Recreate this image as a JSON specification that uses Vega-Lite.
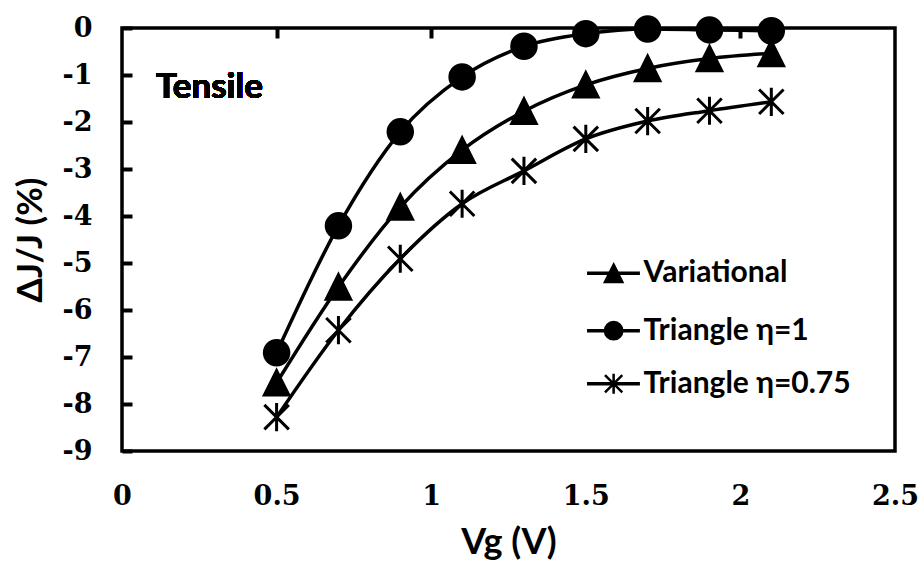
{
  "$schema": "https://vega.github.io/schema/vega-lite/v6.json",
  "width": 773,
  "height": 423,
  "autosize": {"type": "none"},
  "padding": {"left": 122, "top": 28, "right": 26, "bottom": 117},
  "background": "white",
  "config": {
    "view": {"stroke": "black", "strokeWidth": 3.5},
    "axis": {"grid": false, "domain": false}
  },
  "resolve": {"axis": {"x": "independent", "y": "independent"}},
  "data": {
    "values": [
      {"series": "Variational", "vg": 0.5, "dj": -7.55},
      {"series": "Variational", "vg": 0.7, "dj": -5.51},
      {"series": "Variational", "vg": 0.9, "dj": -3.81},
      {"series": "Variational", "vg": 1.1, "dj": -2.6},
      {"series": "Variational", "vg": 1.3, "dj": -1.77},
      {"series": "Variational", "vg": 1.5, "dj": -1.21},
      {"series": "Variational", "vg": 1.7, "dj": -0.86},
      {"series": "Variational", "vg": 1.9, "dj": -0.65},
      {"series": "Variational", "vg": 2.1, "dj": -0.54},
      {"series": "Triangle η=1", "vg": 0.5, "dj": -6.91},
      {"series": "Triangle η=1", "vg": 0.7, "dj": -4.21},
      {"series": "Triangle η=1", "vg": 0.9, "dj": -2.21},
      {"series": "Triangle η=1", "vg": 1.1, "dj": -1.04},
      {"series": "Triangle η=1", "vg": 1.3, "dj": -0.39},
      {"series": "Triangle η=1", "vg": 1.5, "dj": -0.12},
      {"series": "Triangle η=1", "vg": 1.7, "dj": -0.02},
      {"series": "Triangle η=1", "vg": 1.9, "dj": -0.04},
      {"series": "Triangle η=1", "vg": 2.1, "dj": -0.06},
      {"series": "Triangle η=0.75", "vg": 0.5, "dj": -8.28},
      {"series": "Triangle η=0.75", "vg": 0.7, "dj": -6.43},
      {"series": "Triangle η=0.75", "vg": 0.9, "dj": -4.91},
      {"series": "Triangle η=0.75", "vg": 1.1, "dj": -3.74},
      {"series": "Triangle η=0.75", "vg": 1.3, "dj": -3.04},
      {"series": "Triangle η=0.75", "vg": 1.5, "dj": -2.36},
      {"series": "Triangle η=0.75", "vg": 1.7, "dj": -1.98},
      {"series": "Triangle η=0.75", "vg": 1.9, "dj": -1.76},
      {"series": "Triangle η=0.75", "vg": 2.1, "dj": -1.57}
    ]
  },
  "layer": [
    {
      "mark": {"type": "line", "interpolate": "monotone", "color": "black", "strokeWidth": 3.5},
      "encoding": {
        "x": {
          "field": "vg", "type": "quantitative",
          "scale": {"domain": [0, 2.5], "nice": false},
          "axis": {
            "orient": "bottom", "values": [0, 0.5, 1, 1.5, 2, 2.5], "ticks": false,
            "labelExpr": "'' + datum.value", "labelFlush": false,
            "labelPadding": 32, "labelFont": "DejaVu Serif", "labelFontWeight": "bold",
            "labelFontSize": 27, "labelColor": "black",
            "title": "Vg (V)", "titleFont": "Lato", "titleFontWeight": "bold",
            "titleFontSize": 36, "titleColor": "black", "titlePadding": 16
          }
        },
        "y": {
          "field": "dj", "type": "quantitative",
          "scale": {"domain": [-9, 0], "nice": false},
          "axis": {
            "orient": "left",
            "values": [-9, -8, -7, -6, -5, -4, -3, -2, -1, 0],
            "tickSize": -10, "tickWidth": 4, "tickColor": "black",
            "labelPadding": 40, "labelFont": "DejaVu Serif", "labelFontWeight": "bold",
            "labelFontSize": 27, "labelColor": "black",
            "labelExpr": "replace(datum.label, '−', '-')",
            "title": "ΔJ/J (%)", "titleFont": "Lato", "titleFontWeight": "bold",
            "titleFontSize": 35, "titleColor": "black", "titlePadding": 14
          }
        },
        "detail": {"field": "series", "type": "nominal"}
      }
    },
    {
      "mark": {"type": "point", "filled": true, "fill": "black", "stroke": "black", "strokeWidth": 3, "size": 600, "opacity": 1},
      "encoding": {
        "x": {"field": "vg", "type": "quantitative", "axis": null},
        "y": {"field": "dj", "type": "quantitative", "axis": null},
        "shape": {
          "field": "series", "type": "nominal",
          "scale": {
            "domain": ["Variational", "Triangle η=1", "Triangle η=0.75"],
            "range": ["M0,-1L1,1L-1,1Z", "circle", "M-1,-1L1,1M-1,1L1,-1M0,-1.15L0,1.15"]
          },
          "legend": null
        }
      }
    },
    {
      "mark": {"type": "text", "align": "left", "baseline": "middle", "font": "Lato", "fontWeight": "bold", "fontSize": 35, "color": "black"},
      "encoding": {
        "x": {
          "datum": 0.11, "type": "quantitative",
          "axis": {
            "orient": "top", "values": [0.5, 1, 1.5, 2], "labels": false,
            "tickSize": -10, "tickWidth": 4, "tickColor": "black", "title": null
          }
        },
        "y": {"datum": -1.25, "type": "quantitative", "axis": null},
        "text": {"value": "Tensile"}
      }
    },
    {
      "data": {"values": [{"series": "Variational", "ly": -5.22}, {"series": "Triangle η=1", "ly": -6.44}, {"series": "Triangle η=0.75", "ly": -7.57}]},
      "layer": [
        {
          "mark": {"type": "rule", "color": "black", "strokeWidth": 3.5},
          "encoding": {
            "x": {"datum": 1.504, "type": "quantitative", "axis": null},
            "x2": {"datum": 1.675},
            "y": {"field": "ly", "type": "quantitative", "axis": null}
          }
        },
        {
          "mark": {"type": "point", "filled": true, "fill": "black", "stroke": "black", "strokeWidth": 2.5, "size": 300, "opacity": 1},
          "encoding": {
            "x": {"datum": 1.59, "type": "quantitative", "axis": null},
            "y": {"field": "ly", "type": "quantitative", "axis": null},
            "shape": {"field": "series", "type": "nominal", "legend": null}
          }
        },
        {
          "mark": {"type": "text", "align": "left", "baseline": "middle", "font": "Lato", "fontWeight": "bold", "fontSize": 30, "color": "black"},
          "encoding": {
            "x": {"datum": 1.687, "type": "quantitative", "axis": null},
            "y": {"field": "ly", "type": "quantitative", "axis": null},
            "text": {"field": "series", "type": "nominal"}
          }
        }
      ]
    }
  ]
}
